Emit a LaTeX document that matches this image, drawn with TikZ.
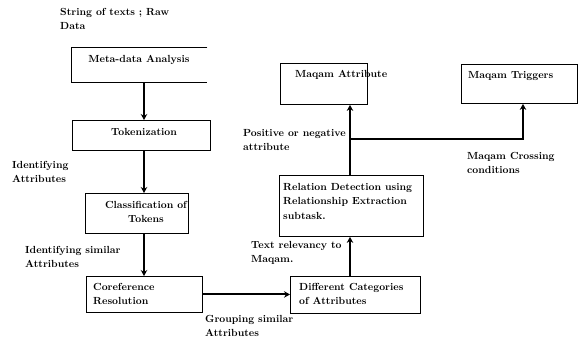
\documentclass[tikz,border=0pt]{standalone}
\usetikzlibrary{arrows.meta}
\begin{document}
\begin{tikzpicture}[x=1pt,y=-1pt,
  every node/.style={font=\fontsize{10.3}{14.5}\selectfont\bfseries, inner sep=0pt},
  box/.style={draw, line width=0.9pt, anchor=north west, inner sep=0pt},
  txt/.style={anchor=north west, align=left},
  ctxt/.style={anchor=north, align=center},
  conn/.style={line width=2pt, -{Stealth[length=6pt,width=6.5pt]}}]
\useasboundingbox (0,0) rectangle (578,345);

% boxes
\node[anchor=north west, minimum width=136pt, minimum height=35pt] (meta) at (71,47) {};
\draw[line width=0.9pt] (meta.north east) -- (meta.north west) -- (meta.south west) -- (meta.south east);
\node[box, minimum width=138pt, minimum height=30pt] (tok) at (72,120) {};
\node[box, minimum width=103pt, minimum height=40pt] (cls) at (85,193) {};
\node[box, minimum width=116pt, minimum height=36pt] (coref) at (86,276) {};
\node[box, minimum width=130pt, minimum height=37pt] (diff) at (290,276) {};
\node[box, minimum width=144pt, minimum height=61pt] (rel) at (279,175) {};
\node[box, minimum width=87pt, minimum height=41pt] (mattr) at (280,63) {};
\node[box, minimum width=116pt, minimum height=39pt] (mtrig) at (461,64) {};

% texts inside boxes
\node[ctxt] (metaT) at (139,55) {Meta-data Analysis};
\node[ctxt] (tokT) at (144,128) {Tokenization};
\node[ctxt] (clsT) at (146,201) {Classification of\\Tokens};
\node[txt] (corefT) at (93,283) {Coreference\\Resolution};
\node[txt] (diffT) at (299,283) {Different Categories\\of Attributes};
\node[txt] (relT) at (283,183) {Relation Detection using\\Relationship Extraction\\subtask.};
\node[txt] (mattrT) at (295,70) {Maqam Attribute};
\node[txt] (mtrigT) at (468,71) {Maqam Triggers};

% free labels
\node[txt] (raw) at (60,8) {String of texts ; Raw\\Data};
\node[txt] (idA) at (12,161) {Identifying\\Attributes};
\node[txt] (idS) at (25,246) {Identifying similar\\Attributes};
\node[txt] (grp) at (205,315) {Grouping similar\\Attributes};
\node[txt] (rlv) at (251,241) {Text relevancy to\\Maqam.};
\node[txt] (pos) at (243,129) {Positive or negative\\attribute};
\node[txt] (cross) at (467,152) {Maqam Crossing\\conditions};

% connectors
\coordinate (colx) at (144,0);
\coordinate (relx) at (350,0);
\coordinate (trgx) at (523,0);
\coordinate (junc) at (350,139);
\draw[conn] (meta.south -| colx) -- (tok.north -| colx);
\draw[conn] (tok.south -| colx) -- (cls.north -| colx);
\draw[conn] (cls.south -| colx) -- (coref.north -| colx);
\draw[conn] (coref.east) -- (coref.east -| diff.west);
\draw[conn] (diff.north -| relx) -- (rel.south -| relx);
\draw[conn] (rel.north -| relx) -- (mattr.south -| relx);
\draw[conn, line width=1.6pt] (junc) -| (mtrig.south -| trgx);
\end{tikzpicture}
\end{document}
